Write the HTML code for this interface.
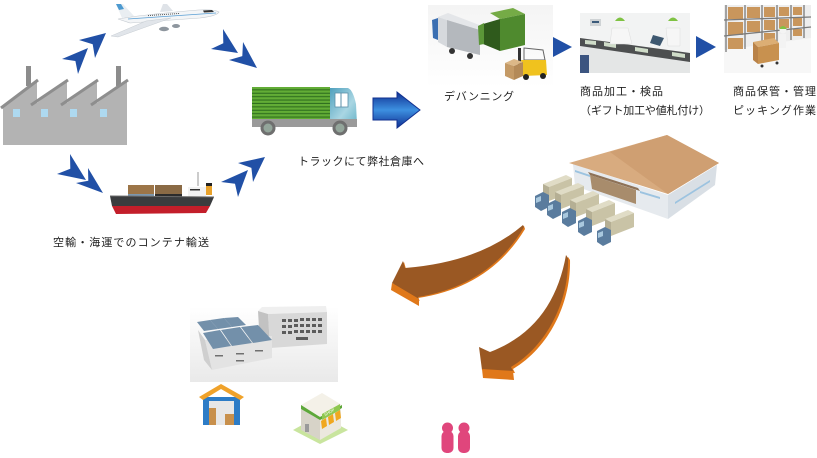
<!DOCTYPE html>
<html><head><meta charset="utf-8"><style>
html,body{margin:0;padding:0;background:#fff;}
svg{display:block;}
text{font-family:"Liberation Sans","Noto Sans CJK JP",sans-serif;fill:#222;font-size:11px;}
</style></head><body>
<svg width="817" height="458" viewBox="0 0 817 458" xmlns="http://www.w3.org/2000/svg">
<defs>
<linearGradient id="bArrow" x1="0" y1="0" x2="0" y2="1">
<stop offset="0" stop-color="#0f2f92"/><stop offset="0.5" stop-color="#3d90e0"/><stop offset="1" stop-color="#0f2f92"/>
</linearGradient>
<linearGradient id="cab" x1="0" y1="0" x2="1" y2="1">
<stop offset="0" stop-color="#4fa0bd"/><stop offset="0.6" stop-color="#a9d6e3"/><stop offset="1" stop-color="#6ab4c8"/>
</linearGradient>
<linearGradient id="photoBg" x1="0" y1="0" x2="0" y2="1">
<stop offset="0" stop-color="#f4f4f4"/><stop offset="1" stop-color="#ffffff"/>
</linearGradient>
<linearGradient id="factBg" x1="0" y1="0" x2="0" y2="1">
<stop offset="0" stop-color="#ffffff"/><stop offset="1" stop-color="#e9e9e9"/>
</linearGradient>
<pattern id="cargo" x="0" y="87" width="6" height="3.4" patternUnits="userSpaceOnUse">
<rect width="6" height="3.4" fill="#62ad36"/><rect y="2.3" width="6" height="1.1" fill="#2f6f1f"/>
</pattern>
</defs>

<!-- Factory -->
<rect x="26" y="66" width="5" height="20" fill="#8c8c8c"/>
<rect x="116" y="66" width="5" height="20" fill="#8c8c8c"/>
<polygon points="3,145 3,106 37,80 37,103 67,80 67,103 97,80 97,103 127,80 127,145" fill="#b3b3b3"/>
<g stroke="#8e8e8e" stroke-width="3" stroke-linecap="butt">
<line x1="1" y1="108" x2="38" y2="80"/>
<line x1="31" y1="105" x2="68" y2="80"/>
<line x1="61" y1="105" x2="98" y2="80"/>
<line x1="91" y1="105" x2="128" y2="80"/>
</g>
<g fill="#aed9f0">
<rect x="13" y="109" width="7" height="8"/><rect x="41" y="109" width="7" height="8"/>
<rect x="70" y="109" width="7" height="8"/><rect x="100" y="109" width="7" height="8"/>
</g>

<!-- Blue chevron arrowheads -->
<g fill="#2150a6">
<polygon points="88,48 62,59 75.4,61 78,74"/>
<polygon points="106,33 79,40 92.7,44.2 95,58"/>
<polygon points="238,53 211,49 223.3,43.2 223,29"/>
<polygon points="257,68 229,60 242.3,56.1 243,42"/>
<polygon points="86,180 57,174 70.3,168.8 70,154"/>
<polygon points="103,193 76,183 88.3,180.8 88,168"/>
<polygon points="248,170 221,182 235,183.7 238,197"/>
<polygon points="265,157 238,163 251.4,167.9 253,182"/>
</g>

<!-- Plane -->
<polygon points="160,12 163,4 167,4 173,11" fill="#dfe3e8"/>
<path d="M118,19 Q140,15 198,10 Q214,9 219,12 Q217,16 200,18 L130,23 Z" fill="#f3f5f7" stroke="#c3c9cf" stroke-width="0.6"/>
<line x1="128" y1="19" x2="216" y2="13" stroke="#5a9fd4" stroke-width="0.8"/>
<polygon points="116,4 123,4 134,16 122,18" fill="#e9eef2"/>
<polygon points="116,4 121,4 124,9 119,10" fill="#4d9ad0"/>
<polygon points="146,21 171,18 118,37 111,36" fill="#e1e5ea" stroke="#c6ccd2" stroke-width="0.5"/>
<ellipse cx="164" cy="29" rx="5" ry="2.2" fill="#8e969e"/>
<ellipse cx="176" cy="26" rx="4" ry="2" fill="#8e969e"/>
<line x1="148" y1="15.6" x2="180" y2="13.4" stroke="#555" stroke-width="1" stroke-dasharray="1,1"/>
<polygon points="203,10.5 212,10 214,12 204,12.5" fill="#333"/>

<!-- Ship -->
<line x1="198" y1="172" x2="198" y2="186" stroke="#bbb" stroke-width="1.5"/>
<rect x="128" y="185" width="26" height="9" fill="#9c7548"/>
<rect x="155" y="185" width="27" height="9" fill="#8a6a45"/>
<rect x="128" y="194" width="26" height="7" fill="#7d97ad"/>
<rect x="155" y="194" width="27" height="7" fill="#2c2c2c"/>
<rect x="188" y="187" width="18" height="11" fill="#f2f2f2"/>
<rect x="190" y="189" width="10" height="1.5" fill="#333"/>
<rect x="206" y="183" width="6" height="12" fill="#e9a22b"/>
<rect x="206" y="183" width="6" height="3" fill="#222"/>
<polygon points="110,196 214,197 210,206 112,206" fill="#3a3c3e"/>
<polygon points="112,206 210,206 206,213 116,214" fill="#c31e2a"/>
<line x1="110" y1="196" x2="214" y2="197" stroke="#6a6a6a" stroke-width="1"/>

<!-- Green truck -->
<rect x="252" y="87" width="78" height="33" fill="url(#cargo)"/>
<path d="M330,88 L348,88 Q353,90 356,104 L357,124 L330,124 Z" fill="url(#cab)"/>
<rect x="335" y="93" width="13" height="14" fill="#ffffff" stroke="#5a8fa8" stroke-width="0.8"/>
<line x1="341" y1="93" x2="341" y2="107" stroke="#5a8fa8" stroke-width="1"/>
<rect x="252" y="119" width="105" height="8" fill="#9a9a9a"/>
<circle cx="268" cy="128" r="7.5" fill="#6f6f6f"/><circle cx="268" cy="128" r="4.5" fill="#93a59a"/>
<circle cx="340" cy="128" r="7.5" fill="#6f6f6f"/><circle cx="340" cy="128" r="4.5" fill="#93a59a"/>

<!-- Big blue arrow -->
<polygon points="373,98 397,98 397,92 420,110 397,128 397,120 373,120" fill="url(#bArrow)" stroke="#12308f" stroke-width="1"/>

<!-- Texts -->
<text x="53" y="246" textLength="156" lengthAdjust="spacing">空輸・海運でのコンテナ輸送</text>
<text x="298" y="165" textLength="126" lengthAdjust="spacing">トラックにて弊社倉庫へ</text>
<text x="444" y="100" textLength="70" lengthAdjust="spacing">デバンニング</text>
<text x="580" y="95" textLength="83" lengthAdjust="spacing">商品加工・検品</text>
<text x="580" y="114" textLength="130" lengthAdjust="spacing">（ギフト加工や値札付け）</text>
<text x="733" y="95" textLength="83" lengthAdjust="spacing">商品保管・管理</text>
<text x="733" y="114" textLength="83" lengthAdjust="spacing">ピッキング作業</text>

<!-- Devanning photo -->
<rect x="428" y="5" width="125" height="83" fill="url(#photoBg)"/>
<polygon points="438,17 448,13 482,26 480,30 447,20" fill="#e4e6e9"/>
<polygon points="447,20 480,30 480,55 447,47" fill="#b4b8bd"/>
<polygon points="438,17 447,20 447,47 438,42" fill="#d6d9dd"/>
<polygon points="432,20 438,18 438,40 433,38" fill="#3b6fb2"/>
<circle cx="452" cy="51" r="3" fill="#333"/><circle cx="470" cy="56" r="3" fill="#333"/>
<polygon points="490,13 513,8 525,14 500,19" fill="#75ab46"/>
<polygon points="500,19 525,14 525,45 500,51" fill="#4f8a2e"/>
<polygon points="483,24 500,19 500,51 483,44" fill="#2f5a1c"/>
<polygon points="478,26 484,23 484,44 479,45" fill="#5b9638"/>
<rect x="518" y="48" width="3" height="28" fill="#333"/>
<polygon points="524,48 543,50 545,60 524,60" fill="none" stroke="#666" stroke-width="1"/>
<polygon points="521,60 546,60 547,75 523,76" fill="#f0c21e"/>
<circle cx="526" cy="77" r="3" fill="#222"/><circle cx="543" cy="76" r="3" fill="#222"/>
<polygon points="505,63 514,59 523,62 514,66" fill="#dcb888"/>
<polygon points="505,63 514,66 514,80 505,76" fill="#c49a66"/>
<polygon points="514,66 523,62 523,76 514,80" fill="#b48a58"/>
<polygon points="553,37 572,47 553,57" fill="#2150a6"/>

<!-- Processing photo -->
<rect x="580" y="13" width="110" height="60" fill="#f2f3f3"/>
<polygon points="580,46 690,60 690,73 580,73" fill="#e4e6e6"/>
<polygon points="580,38 690,53 690,62 580,46" fill="#4d4f50"/>
<polygon points="585,40 596,41 596,45 585,44" fill="#cfdcc8"/>
<polygon points="604,42 616,44 616,48 604,46" fill="#cfdcc8"/>
<polygon points="635,47 648,49 648,53 635,51" fill="#cfdcc8"/>
<polygon points="672,52 685,54 685,58 672,56" fill="#cfdcc8"/>
<rect x="580" y="55" width="9" height="18" fill="#3c5580"/>
<rect x="590" y="19" width="11" height="7" fill="#cfd3d5"/>
<rect x="592" y="21" width="7" height="2" fill="#3a5a7a"/>
<circle cx="620" cy="23" r="4.5" fill="#f4f4f4"/>
<path d="M615,21 Q620,14 625,21 Z" fill="#7fc243"/>
<path d="M612,28 L628,28 L632,44 L610,44 Z" fill="#f6f6f6" stroke="#ddd" stroke-width="0.5"/>
<circle cx="673" cy="23" r="4.5" fill="#f4f4f4"/>
<path d="M668,21 Q673,14 678,21 Z" fill="#7fc243"/>
<path d="M666,28 L680,28 L680,46 L668,46 Z" fill="#f6f6f6" stroke="#ddd" stroke-width="0.5"/>
<polygon points="653,35 664,38 660,46 650,43" fill="#3e5870"/>
<polygon points="696,36 716,47 696,58" fill="#2150a6"/>

<!-- Warehouse photo -->
<rect x="724" y="5" width="87" height="68" fill="#eeeeee"/>
<polygon points="724,50 811,38 811,73 724,73" fill="#f7f7f7"/>
<g fill="#c9965c">
<rect x="728" y="7" width="15" height="12"/><rect x="747" y="7" width="13" height="11"/>
<rect x="764" y="7" width="11" height="10"/><rect x="779" y="7" width="10" height="9"/><rect x="793" y="7" width="9" height="8"/>
<rect x="728" y="22" width="15" height="13"/><rect x="747" y="21" width="13" height="11"/>
<rect x="764" y="20" width="11" height="10"/><rect x="779" y="19" width="10" height="9"/><rect x="793" y="18" width="9" height="8"/>
<rect x="728" y="38" width="15" height="11"/><rect x="764" y="33" width="11" height="8"/><rect x="793" y="29" width="9" height="7"/>
</g>
<g stroke="#7a7a7a" stroke-width="1.3">
<line x1="726" y1="5" x2="726" y2="52"/><line x1="745" y1="5" x2="745" y2="49"/>
<line x1="762" y1="5" x2="762" y2="45"/><line x1="777" y1="5" x2="777" y2="42"/>
<line x1="791" y1="5" x2="791" y2="40"/><line x1="804" y1="5" x2="804" y2="38"/>
<line x1="724" y1="20" x2="811" y2="17"/><line x1="724" y1="36" x2="811" y2="27"/>
</g>
<polygon points="753,42 774,38 779,43 758,47" fill="#dcae74"/>
<polygon points="753,42 758,47 758,64 753,60" fill="#b98248"/>
<polygon points="758,47 779,43 779,60 758,64" fill="#c8914f"/>
<circle cx="783" cy="30" r="3.5" fill="#f4f4f4"/>
<path d="M779,29 Q783,23 787,29 Z" fill="#7fc243"/>
<rect x="779" y="34" width="7" height="14" fill="#f3f3f3"/>
<circle cx="762" cy="66" r="1.5" fill="#333"/><circle cx="777" cy="63" r="1.5" fill="#333"/>

<!-- Warehouse with trucks -->
<polygon points="573,164 668,195 668,219 575,186" fill="#e6eaee"/>
<polygon points="668,195 717,165 715,185 668,219" fill="#d9dfe5"/>
<g fill="#9cc3e0">
<polygon points="575,170 590,175 590,177 575,172"/>
<polygon points="640,191 660,197 660,199 640,193"/>
<polygon points="675,202 710,180 710,182 675,204"/>
</g>
<polygon points="590,175 636,190 636,204 592,189" fill="#a88c6c"/>
<polygon points="588,172 638,188 640,191 590,175" fill="#8e7257"/>
<polygon points="569,163 667,135 719,163 668,194" fill="#d8ab7f"/>
<polygon points="610,152 667,135 719,163 668,194" fill="#cf9f72"/>
<!-- trucks -->
<g id="tr">
<polygon points="543,184 566,175 572,178 549,187" fill="#e0dcc6"/>
<polygon points="549,187 572,178 572,192 549,201" fill="#c9c3a6"/>
<polygon points="543,184 549,187 549,201 543,198" fill="#b5af94"/>
<polygon points="535,196 543,192 549,195 549,207 541,211 535,207" fill="#5a7c9e"/>
<polygon points="536,198 541,196 541,201 536,203" fill="#a9c8de"/>
</g>
<use href="#tr" transform="translate(12,8)"/>
<use href="#tr" transform="translate(27,16)"/>
<use href="#tr" transform="translate(43,25)"/>
<use href="#tr" transform="translate(62,35)"/>

<!-- Brown curved arrows -->
<path d="M524,226 Q480,263 406,269 L404,262 L393,286 L420,301 L418,298 Q490,287 525,229 Z" fill="#e0781a"/>
<path d="M523,225 Q480,262 405,268 L403,261 L392,283 L419,299 L418,297 Q490,285 524,227 Z" fill="#9a5823"/>
<polygon points="392,283 419,299 419,306 391,290" fill="#e0781a"/>
<path d="M568,257 C560,302 537,337 492,354 L481,349 L484,372 L515,373 L513,369 C550,347 571,302 570,260 Z" fill="#e0781a"/>
<path d="M566,255 C558,300 535,335 490,352 L479,347 L482,370 L513,371 L511,367 C548,345 569,300 568,258 Z" fill="#9a5823"/>
<polygon points="482,369 513,371 514,380 483,378" fill="#e0781a"/>

<!-- Factory photo -->
<rect x="190" y="307" width="148" height="75" fill="url(#factBg)"/>
<polygon points="258,311 262,307 326,306 327,312 268,314" fill="#efefef"/>
<polygon points="268,314 327,312 327,344 270,348" fill="#d8d8d8"/>
<polygon points="258,311 268,314 270,348 260,345" fill="#c2c2c2"/>
<g fill="#5c5c5c">
<rect x="282" y="319" width="4" height="3"/><rect x="288" y="319" width="4" height="3"/><rect x="294" y="319" width="4" height="3"/><rect x="300" y="318" width="4" height="3"/><rect x="306" y="318" width="4" height="3"/><rect x="312" y="318" width="4" height="3"/><rect x="318" y="318" width="4" height="3"/>
<rect x="282" y="325" width="4" height="3"/><rect x="288" y="325" width="4" height="3"/><rect x="294" y="324" width="4" height="3"/><rect x="300" y="324" width="4" height="3"/><rect x="306" y="324" width="4" height="3"/><rect x="312" y="324" width="4" height="3"/><rect x="318" y="324" width="4" height="3"/>
<rect x="282" y="331" width="4" height="3"/><rect x="288" y="331" width="4" height="3"/><rect x="294" y="330" width="4" height="3"/><rect x="300" y="330" width="4" height="3"/><rect x="306" y="330" width="4" height="3"/><rect x="312" y="330" width="4" height="3"/><rect x="318" y="330" width="4" height="3"/>
<rect x="296" y="337" width="12" height="3"/>
</g>
<polygon points="205,340 272,336 272,358 212,370" fill="#e3e3e3"/>
<polygon points="198,330 205,340 212,370 204,360" fill="#cfcfcf"/>
<g fill="#7390aa">
<polygon points="197,322 210,320 218,329 204,331"/>
<polygon points="210,320 224,318 232,327 218,329"/>
<polygon points="224,318 238,317 246,325 232,327"/>
<polygon points="203,333 220,330 231,346 213,349"/>
<polygon points="221,330 240,327 252,343 232,346"/>
<polygon points="241,327 258,325 272,340 253,343"/>
</g>
<g fill="#707070">
<rect x="215" y="355" width="8" height="1.5"/><rect x="236" y="353" width="8" height="1.5"/><rect x="255" y="350" width="8" height="1.5"/><rect x="236" y="360" width="8" height="1.5"/>
</g>

<!-- Blue warehouse icon -->
<polygon points="203,397 240,397 240,425 203,425" fill="#2d7cc6"/>
<rect x="209" y="401" width="25" height="24" fill="#e7e7e7"/>
<g fill="#c8904c">
<rect x="209" y="408" width="7" height="17"/><rect x="225" y="414" width="9" height="11"/>
</g>
<polygon points="221,384 244,397 240,400 221,389 203,400 199,397" fill="#f0a22a"/>

<!-- Shop icon -->
<polygon points="293,430 320,415 348,430 320,444" fill="#c9e59e"/>
<polygon points="301,409 320,420 320,440 301,430" fill="#d7d3c8"/>
<polygon points="320,420 341,408 341,428 320,440" fill="#ebe8df"/>
<polygon points="301,405 322,393 342,405 320,417" fill="#f4f1e8"/>
<polygon points="301,405 320,417 320,420 301,409" fill="#5da83a"/>
<polygon points="320,417 342,405 342,408 320,420" fill="#5da83a"/>
<polygon points="322,414 340,404 340,410 322,420" fill="#8fc850"/>
<text x="325" y="416" transform="rotate(-28 325 416)" style="fill:#fff;font-size:4px">SHOP</text>
<g fill="#f0a820">
<polygon points="321,421 326,418 327,426 322,429"/>
<polygon points="328,417 333,414 334,422 329,425"/>
<polygon points="335,413 340,410 341,418 336,421"/>
</g>
<rect x="305" y="424" width="4" height="8" fill="#9a9a9a"/>

<!-- Pink people -->
<g fill="#e0467c">
<circle cx="447.5" cy="428" r="5.5"/><rect x="441.5" y="431" width="12" height="22" rx="5"/>
<circle cx="464" cy="428" r="5.5"/><rect x="458" y="431" width="12" height="22" rx="5"/>
</g>
</svg>
</body></html>
